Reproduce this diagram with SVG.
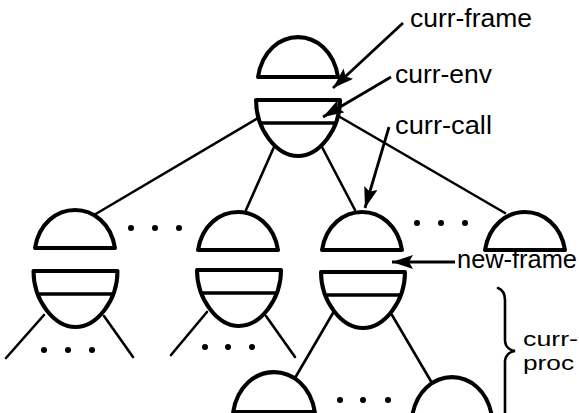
<svg xmlns="http://www.w3.org/2000/svg" xmlns:xlink="http://www.w3.org/1999/xlink" width="579" height="413" viewBox="0 0 579 413">
<style>
.shape{fill:#fff;stroke:#000;stroke-width:4;stroke-linejoin:round}
.mid{stroke:#000;stroke-width:3.5;fill:none}
.edge{stroke:#000;stroke-width:2.6;fill:none;stroke-linecap:round}
.arrow{stroke:#000;stroke-width:2.8;fill:none;marker-end:url(#ah)}
.dot{fill:#000}
.lbl{font-family:"Liberation Sans",Arial,sans-serif;font-size:25px;fill:#000}
.sm{font-size:21px}
</style>
<defs>
<marker id="ah" markerUnits="userSpaceOnUse" markerWidth="24" markerHeight="16" refX="21" refY="7" orient="auto">
<path d="M0,0 L21,7 L0,14 L4,7 Z" fill="#000"/>
</marker>
<path id="dome" d="M-40,0 C-36,-25 -18,-38 0,-38 C18,-38 36,-25 40,0 Z"/>
<g id="bowl">
<path d="M-42,0 H42 C42,30 21,56 0,56 C-21,56 -42,30 -42,0 Z"/>
<path class="mid" d="M-37,23 H37"/>
</g>
</defs>
<rect width="579" height="413" fill="#fff"/>
<g id="connectors">
<path class="edge" d="M258,118 L94,215"/>
<path class="edge" d="M274,147 L246,210"/>
<path class="edge" d="M322,147 L355,210"/>
<path class="edge" d="M340,117 L505,213"/>
<path class="edge" d="M44,315 L6,358"/>
<path class="edge" d="M104,316 L133,357"/>
<path class="edge" d="M207,312 L171,355"/>
<path class="edge" d="M266,316 L295,357"/>
<path class="edge" d="M333,313 L295,378"/>
<path class="edge" d="M392,315 L432,383"/>
</g>
<g id="top-node" class="shape">
<use href="#dome" transform="translate(298,77) scale(1,1.05)"/>
<use href="#bowl" transform="translate(298,100)"/>
</g>
<g id="node1" class="shape">
<use href="#dome" transform="translate(75,248)"/>
<use href="#bowl" transform="translate(75.5,271)"/>
</g>
<g id="node2" class="shape">
<use href="#dome" transform="translate(238,250)"/>
<use href="#bowl" transform="translate(239,270)"/>
</g>
<g id="node3" class="shape">
<use href="#dome" transform="translate(362,250)"/>
<use href="#bowl" transform="translate(363,272)"/>
</g>
<g id="node4" class="shape">
<use href="#dome" transform="translate(525,250)"/>
</g>
<g id="node5" class="shape">
<use href="#dome" transform="translate(274,412) scale(1.02,1.05)"/>
</g>
<g id="node6" class="shape">
<use href="#dome" transform="translate(452,417) scale(1,1.05)"/>
</g>
<g id="dots" class="dot">
<circle cx="131" cy="228" r="3"/><circle cx="155" cy="228" r="3"/><circle cx="179" cy="228" r="3"/>
<circle cx="417" cy="223" r="3"/><circle cx="441" cy="223" r="3"/><circle cx="465" cy="223" r="3"/>
<circle cx="44" cy="350" r="3"/><circle cx="68" cy="350" r="3"/><circle cx="92" cy="350" r="3"/>
<circle cx="205" cy="347" r="3"/><circle cx="228" cy="347" r="3"/><circle cx="252" cy="347" r="3"/>
<circle cx="340" cy="400" r="3"/><circle cx="363" cy="400" r="3"/><circle cx="388" cy="400" r="3"/>
</g>
<g id="labels">
<path class="arrow" d="M403,23 L333,88"/>
<path class="arrow" d="M391,77 L323,117"/>
<path class="arrow" d="M389,127 L365,208"/>
<path class="arrow" d="M455,262 L392,262"/>
<path class="edge" d="M498,288 C503,290 505,294 505,300 L505,340 C505,346 509,350 515,351 C509,352 505,356 505,362 L505,420"/>
<text class="lbl" x="410" y="27" textLength="122" lengthAdjust="spacingAndGlyphs">curr-frame</text>
<text class="lbl" x="395" y="83" textLength="97" lengthAdjust="spacingAndGlyphs">curr-env</text>
<text class="lbl" x="395" y="134" textLength="97" lengthAdjust="spacingAndGlyphs">curr-call</text>
<text class="lbl" x="457" y="268" textLength="120" lengthAdjust="spacingAndGlyphs">new-frame</text>
<text class="lbl sm" x="523" y="346" textLength="55" lengthAdjust="spacingAndGlyphs">curr-</text>
<text class="lbl sm" x="523" y="370" textLength="51" lengthAdjust="spacingAndGlyphs">proc</text>
</g>
</svg>
